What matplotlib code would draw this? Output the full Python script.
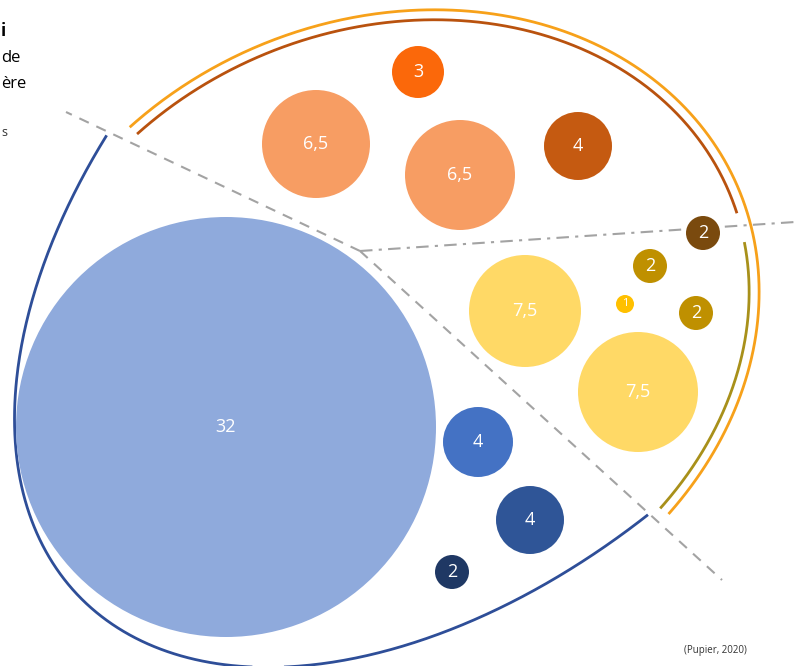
import numpy as np
import matplotlib
matplotlib.use("Agg")
import matplotlib.pyplot as plt
from matplotlib.patches import Circle

plt.rcParams['font.family'] = ['Open Sans', 'DejaVu Sans']

# bubble values, grouped by sector
values = [32, 4, 4, 2, 6.5, 6.5, 3, 4, 7.5, 7.5, 2, 2, 2, 1]
labels = ['32', '4', '4', '2', '6,5', '6,5', '3', '4', '7,5', '7,5', '2', '2', '2', '1']
groups = ['blue'] * 4 + ['orange'] * 4 + ['yellow'] * 6
colors = ['#8FAADC', '#4472C4', '#2F5597', '#1F3864',
          '#F79D63', '#F79D63', '#FB680A', '#C55A11',
          '#FFD966', '#FFD966', '#7A4A0E', '#BF9000', '#BF9000', '#FFC000']

# layout of the bubbles (pixel coords, y downward)
cx = [226, 478, 530, 452, 316, 460, 418, 578, 525, 638, 703, 650, 696, 625]
cy = [427, 442, 520, 572, 144, 175, 72, 146, 311, 392, 233, 266, 313, 304]
radius = [210, 35, 34, 17, 54, 55, 26, 34, 56, 60, 17, 17, 17, 9]

# outline curves, traced points
blue_pts = [(105, 135), (83, 177), (67, 210), (50, 250), (33, 300), (22, 343), (14, 383),
            (13, 420), (23, 480), (40, 530), (67, 580), (100, 620), (133, 643), (167, 656),
            (200, 661), (250, 662), (350, 652), (450, 631), (550, 587), (647, 513)]
orange_pts = [(127, 125), (193, 83), (260, 47), (327, 23), (393, 13), (467, 10), (533, 20),
              (600, 47), (667, 90), (717, 143), (743, 193), (750, 240), (753, 300),
              (750, 350), (740, 405), (717, 463), (690, 492), (662, 510)]
brown_ends = [(137, 133), (393, 25), (738, 213)]
olive_ends = [(742, 243), (724, 410), (653, 505)]

hub = (360, 251)
ray_ends = [(66, 112), (722, 580), (795, 222)]


def fit_ellipse(pts):
    p = np.array(pts, float)
    m, s = p.mean(0), p.std()
    q = (p - m) / s
    x, y = q[:, 0], q[:, 1]
    D = np.column_stack([x * x, x * y, y * y, x, y, np.ones_like(x)])
    S = D.T @ D
    C = np.zeros((6, 6))
    C[0, 2] = C[2, 0] = 2
    C[1, 1] = -1
    w, v = np.linalg.eig(np.linalg.solve(S, C))
    v = np.real(v)
    cond = 4 * v[0] * v[2] - v[1] ** 2
    A, B, Cc, Dd, E, F = v[:, np.argmax(cond)]
    c = np.linalg.solve([[2 * A, B], [B, 2 * Cc]], [-Dd, -E])
    Fp = F + (Dd * c[0] + E * c[1]) / 2
    lam, V = np.linalg.eigh(np.array([[A, B / 2], [B / 2, Cc]]))
    axes = np.sqrt(-Fp / lam)
    return m + s * c, axes * s, V


def arc(fit, pts, shrink=0, n=400):
    c, axes, V = fit
    u = (np.array(pts, float) - c) @ V
    t = np.unwrap(np.arctan2(u[:, 1] / axes[1], u[:, 0] / axes[0]))
    tt = np.linspace(t[0], t[-1], n)
    a = axes - shrink
    return c + np.column_stack([a[0] * np.cos(tt), a[1] * np.sin(tt)]) @ V.T


fig = plt.figure(figsize=(7.95, 6.66), dpi=100)
ax = fig.add_axes([0, 0, 1, 1])
ax.set_xlim(0, 795)
ax.set_ylim(666, 0)
ax.axis('off')

# sector separators
for (ex, ey), ls in zip(ray_ends, [(0, (5, 4)), (0, (5, 4)), (0, (6, 3, 1.5, 3))]):
    ax.plot([hub[0], ex], [hub[1], ey], color='#A3A3A3', lw=1.5, linestyle=ls, zorder=1)

blue_fit = fit_ellipse(blue_pts)
orange_fit = fit_ellipse(orange_pts)
curves = [(arc(blue_fit, blue_pts), '#2E4E98'),
          (arc(orange_fit, orange_pts), '#F7A11A'),
          (arc(orange_fit, brown_ends, shrink=10), '#B9520E'),
          (arc(orange_fit, olive_ends, shrink=10), '#A8901A')]
for c, col in curves:
    ax.plot(c[:, 0], c[:, 1], color=col, lw=2, solid_capstyle='butt', zorder=2)

for x, y, r, col, lab in zip(cx, cy, radius, colors, labels):
    ax.add_patch(Circle((x, y), r, facecolor=col, edgecolor='none', zorder=3))
    ax.text(x, y, lab, color='white', fontsize=8 if r < 12 else 13,
            ha='center', va='center', zorder=4)

# side text (cropped in the source)
ax.text(1, 31, 'i', fontsize=12, fontweight='bold', ha='left', va='center')
ax.text(1, 58, 'de', fontsize=12, ha='left', va='center')
ax.text(1, 84, 'ère', fontsize=12, ha='left', va='center')
ax.text(1, 133, 's', fontsize=9, ha='left', va='center', color='#333333')

ax.text(715, 651, '(Pupier, 2020)', fontsize=7, ha='center', va='center', color='#333333')

fig.savefig('out.png', dpi=100)
